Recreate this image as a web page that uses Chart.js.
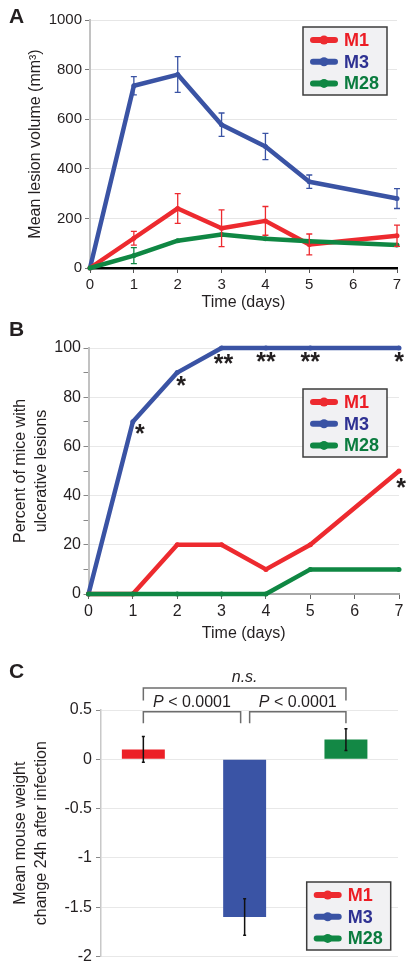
<!DOCTYPE html>
<html lang="en">
<head>
<meta charset="UTF-8">
<title>Lesion volume, ulceration and weight change</title>
<style>
  html, body { margin: 0; padding: 0; background: #fff; }
  body { width: 415px; height: 970px; position: relative; overflow: hidden; }
  canvas { position: absolute; left: 0; }
  #chartA { top: 0; }
  #chartB { top: 315px; }
  #chartC { top: 645px; }
</style>
<script src="https://cdn.jsdelivr.net/npm/chart.js"></script>
</head>
<body>
<canvas id="chartA" width="415" height="315"></canvas>
<canvas id="chartB" width="415" height="330"></canvas>
<canvas id="chartC" width="415" height="325"></canvas>
<script>
// series
const seriesNames = ['M1', 'M3', 'M28'];
const lineColors = ['#ed2a2f', '#3a53a4', '#0f8743'];
const textColors = ['#ec1c24', '#2e3192', '#0a7b3e'];
const barColors = ['#ec2027', '#3a54a5', '#138845'];

const days = [0, 1, 2, 3, 4, 5, 7];
const dayTicks = [0, 1, 2, 3, 4, 5, 6, 7];

// A - mean lesion volume (mm3)
const volM1 = [0, 120, 240, 160, 190, 95, 130];
const volM3 = [0, 735, 780, 578, 490, 348, 280];
const volM28 = [0, 50, 110, 135, 118, 108, 93];
const errM1 = [0, 28, 60, 74, 58, 42, 43];
const errM3 = [0, 37, 72, 47, 53, 27, 40];
const errM28 = [0, 32, 0, 0, 0, 0, 0];
const volTicks = [0, 200, 400, 600, 800, 1000];

// B - percent of mice with ulcerative lesions
const pctM1 = [0, 0, 20, 20, 10, 20, 50];
const pctM3 = [0, 70, 90, 100, 100, 100, 100];
const pctM28 = [0, 0, 0, 0, 0, 10, 10];
const starsM1 = ['', '', '', '', '', '', '*'];
const starsM3 = ['', '*', '*', '**', '**', '**', '*'];
const pctTicks = [0, 20, 40, 60, 80, 100];
const pctMinorTicks = [10, 30, 50, 70, 90];

// C - weight change 24h after infection
const weightChange = [0.1, -1.6, 0.2];
const weightErr = [0.13, 0.185, 0.11];
const weightTicks = [-2, -1.5, -1, -0.5, 0, 0.5];
const pText = 'P';
const pRest = ' < 0.0001';
const nsText = 'n.s.';

const FONT = "'Liberation Sans', Arial, Helvetica, sans-serif";
const INK = '#231f20';
Chart.defaults.font.family = FONT;
Chart.defaults.color = INK;
Chart.defaults.animation = false;

function drawLegend(ctx, x, y) {
  const w = 84, h = 68;
  ctx.save();
  ctx.fillStyle = '#f1f1f3';
  ctx.fillRect(x, y, w, h);
  ctx.strokeStyle = '#3c3c3c';
  ctx.lineWidth = 1.5;
  ctx.strokeRect(x, y, w, h);
  seriesNames.forEach((name, i) => {
    const cy = y + 13 + i * 21.7;
    ctx.strokeStyle = lineColors[i];
    ctx.lineWidth = 6;
    ctx.lineCap = 'round';
    ctx.beginPath();
    ctx.moveTo(x + 10, cy);
    ctx.lineTo(x + 32, cy);
    ctx.stroke();
    ctx.fillStyle = lineColors[i];
    ctx.beginPath();
    ctx.arc(x + 21, cy, 4.5, 0, Math.PI * 2);
    ctx.fill();
    ctx.fillStyle = textColors[i];
    ctx.font = 'bold 18px ' + FONT;
    ctx.textBaseline = 'middle';
    ctx.textAlign = 'left';
    ctx.fillText(name, x + 41, cy + 1);
  });
  ctx.restore();
}

function panelLetter(ctx, letter, y) {
  ctx.save();
  ctx.fillStyle = INK;
  ctx.font = 'bold 21px ' + FONT;
  ctx.textAlign = 'center';
  ctx.textBaseline = 'middle';
  ctx.fillText(letter, 16.5, y);
  ctx.restore();
}

function lineDataset(i, values, errs) {
  return {
    label: seriesNames[i],
    data: days.map((d, k) => ({ x: d, y: values[k] })),
    err: errs,
    borderColor: lineColors[i],
    backgroundColor: lineColors[i],
    borderWidth: 4.5,
    pointRadius: 2.5,
    pointBorderWidth: 0,
    borderJoinStyle: 'round',
    tension: 0,
    clip: false,
    order: [1, 2, 0][i]
  };
}

function xDays(height, titleBottom, tickSize) {
  return {
    type: 'linear', min: 0, max: 7,
    afterBuildTicks: s => { s.ticks = dayTicks.map(v => ({ value: v })); },
    afterFit: s => { s.height = height; },
    ticks: { font: { size: tickSize }, padding: 3, autoSkip: false, maxRotation: 0, color: INK, callback: v => String(v) },
    title: { display: true, text: 'Time (days)', font: { size: 16 }, padding: { top: 0, bottom: titleBottom }, color: INK }
  };
}

// error bars for panel A
const errorBars = {
  id: 'errorBars',
  afterDatasetsDraw(chart) {
    const ctx = chart.ctx;
    const ys = chart.scales.y;
    chart.data.datasets.forEach((ds, i) => {
      if (!ds.err) return;
      const meta = chart.getDatasetMeta(i);
      ctx.save();
      ctx.strokeStyle = ds.borderColor;
      ctx.lineWidth = 1.3;
      meta.data.forEach((pt, k) => {
        const e = ds.err[k];
        if (!e) return;
        const v = ds.data[k].y;
        const y1 = ys.getPixelForValue(v + e), y2 = ys.getPixelForValue(v - e);
        ctx.beginPath();
        ctx.moveTo(pt.x, y1); ctx.lineTo(pt.x, y2);
        ctx.moveTo(pt.x - 3, y1); ctx.lineTo(pt.x + 3, y1);
        ctx.moveTo(pt.x - 3, y2); ctx.lineTo(pt.x + 3, y2);
        ctx.stroke();
      });
      ctx.restore();
    });
  }
};

new Chart(document.getElementById('chartA'), {
  type: 'line',
  data: {
    datasets: [
      lineDataset(0, volM1, errM1),
      lineDataset(1, volM3, errM3),
      lineDataset(2, volM28, errM28)
    ]
  },
  options: {
    responsive: false,
    layout: { padding: { left: 0, right: 18, top: 20, bottom: 0 } },
    plugins: { legend: { display: false }, tooltip: { enabled: false } },
    scales: {
      x: Object.assign(xDays(47, 2.4, 15), {
        grid: { drawOnChartArea: false, tickLength: 5, tickColor: '#555' },
        border: { color: '#000', width: 2.5 }
      }),
      y: {
        min: 0, max: 1000,
        afterBuildTicks: s => { s.ticks = volTicks.map(v => ({ value: v })); },
        afterFit: s => { s.width = 90; },
        grid: { color: '#e6e6e6', lineWidth: 1, tickLength: 5, tickColor: '#777' },
        border: { color: '#c2c2c2', width: 2 },
        ticks: { font: { size: 15 }, padding: 3, color: INK, callback: v => String(v) },
        title: { display: true, text: 'Mean lesion volume (mm³)', font: { size: 16 }, padding: { top: 26, bottom: 0 }, color: INK }
      }
    }
  },
  plugins: [errorBars, {
    id: 'decorA',
    afterDraw(chart) {
      panelLetter(chart.ctx, 'A', 17);
      drawLegend(chart.ctx, 303, 27);
    }
  }]
});

// stars for panel B
const starDx = [0, 7, 4, 2, 0, 0, 0];
const starDy = [0, 7, 8, 11, 9, 9, 9];
new Chart(document.getElementById('chartB'), {
  type: 'line',
  data: {
    datasets: [
      lineDataset(0, pctM1, null),
      lineDataset(1, pctM3, null),
      lineDataset(2, pctM28, null)
    ]
  },
  options: {
    responsive: false,
    layout: { padding: { left: 0, right: 16, top: 33, bottom: 0 } },
    plugins: { legend: { display: false }, tooltip: { enabled: false } },
    scales: {
      x: Object.assign(xDays(51, 2.1, 16), {
        grid: { drawOnChartArea: false, tickLength: 5, tickColor: '#666' },
        border: { color: '#a8a8a8', width: 2 }
      }),
      y: {
        min: 0, max: 100,
        afterBuildTicks: s => {
          s.ticks = pctTicks.concat(pctMinorTicks).sort((a, b) => a - b).map(v => ({ value: v }));
        },
        afterFit: s => { s.width = 88.5; },
        grid: {
          color: c => pctTicks.includes(c.tick && c.tick.value) ? '#e8e8e8' : 'rgba(0,0,0,0)',
          tickColor: '#888', tickLength: 5
        },
        border: { color: '#c2c2c2', width: 2 },
        ticks: { font: { size: 16 }, padding: 2.5, color: INK, autoSkip: false,
          callback: v => pctTicks.includes(v) ? String(v) : '' },
        title: { display: true, text: ['Percent of mice with', 'ulcerative lesions'],
          font: { size: 16, lineHeight: 1.3 }, padding: { top: 10.6, bottom: 0 }, color: INK }
      }
    }
  },
  plugins: [{
    id: 'decorB',
    afterDatasetsDraw(chart) {
      const ctx = chart.ctx;
      ctx.save();
      ctx.fillStyle = INK;
      ctx.font = 'bold 25px ' + FONT;
      ctx.textAlign = 'center';
      ctx.textBaseline = 'alphabetic';
      const put = (txt, x, cy) => {
        const m = ctx.measureText(txt);
        ctx.fillText(txt, x, cy + (m.actualBoundingBoxAscent - m.actualBoundingBoxDescent) / 2);
      };
      const m3 = chart.getDatasetMeta(1).data;
      starsM3.forEach((s, k) => { if (s) put(s, m3[k].x + starDx[k], m3[k].y + starDy[k]); });
      const m1 = chart.getDatasetMeta(0).data;
      starsM1.forEach((s, k) => { if (s) put(s, m1[k].x + 2, m1[k].y + 12); });
      ctx.restore();
    },
    afterDraw(chart) {
      panelLetter(chart.ctx, 'B', 15);
      drawLegend(chart.ctx, 303, 74);
    }
  }]
});

new Chart(document.getElementById('chartC'), {
  type: 'bar',
  data: {
    datasets: [{
      label: 'weight',
      data: weightChange.map((v, i) => ({ x: i, y: v })),
      backgroundColor: barColors,
      borderWidth: 0,
      barPercentage: 0.424,
      categoryPercentage: 1
    }]
  },
  options: {
    responsive: false,
    layout: { padding: { left: 0, right: 17, top: 65, bottom: 13 } },
    plugins: { legend: { display: false }, tooltip: { enabled: false } },
    scales: {
      x: {
        type: 'linear', min: -0.418, max: 2.514, offset: false, display: false,
        afterBuildTicks: s => { s.ticks = weightChange.map((v, i) => ({ value: i })); }
      },
      y: {
        min: -2, max: 0.5,
        afterBuildTicks: s => { s.ticks = weightTicks.map(v => ({ value: v })); },
        afterFit: s => { s.width = 101; },
        grid: { color: '#e8e8e8', tickLength: 5, tickColor: '#888' },
        border: { color: '#c8c8c8', width: 1.5 },
        ticks: { font: { size: 16 }, padding: 4, color: INK, callback: v => String(v) },
        title: { display: true, text: ['Mean mouse weight', 'change 24h after infection'],
          font: { size: 16, lineHeight: 1.3 }, padding: { top: 10.6, bottom: 0 }, color: INK }
      }
    }
  },
  plugins: [{
    id: 'decorC',
    afterDatasetsDraw(chart) {
      const ctx = chart.ctx;
      const ys = chart.scales.y;
      const bars = chart.getDatasetMeta(0).data;
      ctx.save();
      ctx.strokeStyle = '#111';
      ctx.lineWidth = 1.5;
      bars.forEach((b, i) => {
        const y1 = ys.getPixelForValue(weightChange[i] + weightErr[i]);
        const y2 = ys.getPixelForValue(weightChange[i] - weightErr[i]);
        ctx.beginPath();
        ctx.moveTo(b.x, y1); ctx.lineTo(b.x, y2);
        ctx.moveTo(b.x - 1.5, y1); ctx.lineTo(b.x + 1.5, y1);
        ctx.moveTo(b.x - 1.5, y2); ctx.lineTo(b.x + 1.5, y2);
        ctx.stroke();
      });
      ctx.restore();
    },
    afterDraw(chart) {
      const ctx = chart.ctx;
      const xs = chart.getDatasetMeta(0).data.map(b => b.x);
      const top = chart.chartArea.top;
      ctx.save();
      ctx.strokeStyle = '#6d6d6d';
      ctx.lineWidth = 1.5;
      const bracket = (x1, x2, y, legs) => {
        ctx.beginPath();
        ctx.moveTo(x1, y + legs); ctx.lineTo(x1, y); ctx.lineTo(x2, y); ctx.lineTo(x2, y + legs);
        ctx.stroke();
      };
      bracket(xs[0], xs[2], top - 22, 12.5);
      bracket(xs[0], xs[1] - 4, top + 1.7, 11.5);
      bracket(xs[1] + 5, xs[2], top + 1.7, 11.5);

      ctx.fillStyle = INK;
      ctx.textBaseline = 'middle';
      ctx.textAlign = 'left';
      const pLabel = (cx, cy) => {
        ctx.font = 'italic 16px ' + FONT;
        const w1 = ctx.measureText(pText).width;
        ctx.font = '16px ' + FONT;
        const w2 = ctx.measureText(pRest).width;
        const x0 = cx - (w1 + w2) / 2;
        ctx.font = 'italic 16px ' + FONT;
        ctx.fillText(pText, x0, cy);
        ctx.font = '16px ' + FONT;
        ctx.fillText(pRest, x0 + w1, cy);
      };
      pLabel((xs[0] + xs[1] - 4) / 2, top - 7.3);
      pLabel((xs[1] + 5 + xs[2]) / 2, top - 7.3);
      ctx.font = 'italic 16px ' + FONT;
      ctx.textAlign = 'center';
      ctx.fillText(nsText, (xs[0] + xs[2]) / 2, top - 32);
      ctx.restore();

      panelLetter(ctx, 'C', 27);
      drawLegend(ctx, 306.7, 237);
    }
  }]
});
</script>
</body>
</html>
